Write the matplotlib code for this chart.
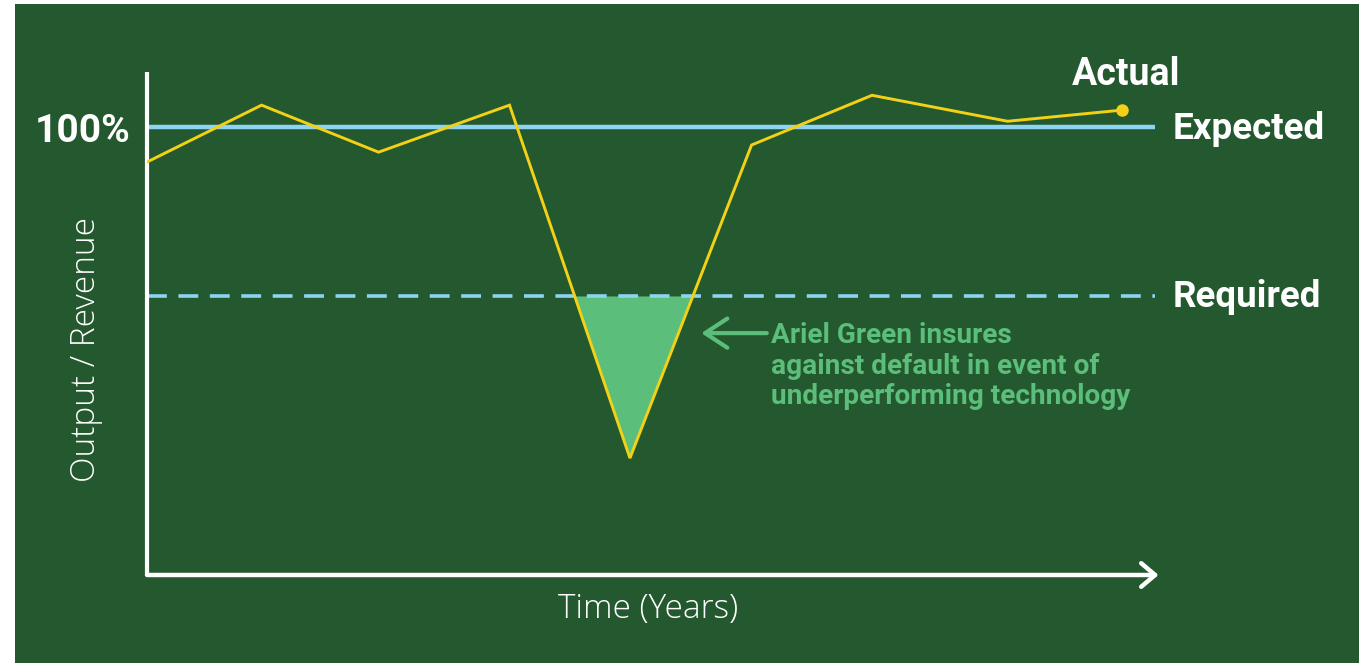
import matplotlib
matplotlib.use("Agg")
import matplotlib.pyplot as plt
from matplotlib.patches import Rectangle
import numpy as np

# Yearly output / revenue as a percentage of the expected level
years = [0.0, 0.98, 1.98, 3.1, 4.13, 5.17, 6.2, 7.36, 8.34]
actual = [92.2, 104.9, 94.4, 104.9, 26.1, 96.0, 107.1, 101.3, 103.8]
expected_level = 100.0
required_level = 62.3

x_max = 8.62
y_max = 112.3

BG = "#24582e"
YELLOW = "#f3d116"
BLUE = "#8dd4f2"
FILL = "#5bbe7a"
WHITE = "#ffffff"

W, H = 1363, 663
fig = plt.figure(figsize=(W / 100, H / 100), dpi=100, facecolor="white")

# dark green panel
fig.patches.append(Rectangle((15 / W, 0), (1359 - 15) / W, (663 - 4) / H,
                             transform=fig.transFigure, facecolor=BG,
                             edgecolor="none", zorder=-5))

ax = fig.add_axes([147 / W, 88 / H, (1155 - 147) / W, (575 - 72) / H])
ax.set_facecolor("none")
ax.set_xlim(0, x_max)
ax.set_ylim(0, y_max)
for s in ax.spines.values():
    s.set_visible(False)
ax.set_xticks([])
ax.set_yticks([])

bold = ["Roboto", "DejaVu Sans"]
light = ["Open Sans", "DejaVu Sans"]

# axes
ax.plot([0, 0], [0, y_max], color=WHITE, lw=3, solid_capstyle="butt",
        clip_on=False, zorder=3)
ax.annotate("", xy=(x_max + 0.03, 0), xytext=(0, 0),
            arrowprops=dict(arrowstyle="->,head_length=1.0,head_width=0.85",
                            mutation_scale=10, color=WHITE, lw=3.2,
                            shrinkA=0, shrinkB=0,
                            capstyle="round", joinstyle="round"),
            annotation_clip=False, zorder=3)

# reference levels
ax.plot([0, x_max], [expected_level] * 2, color=BLUE, lw=3.2,
        solid_capstyle="butt", zorder=2)
ax.plot([0, x_max], [required_level] * 2, color=BLUE, lw=2.6,
        dashes=(5.5, 3.2), zorder=2)

# shortfall below the required level
yr = np.array(years)
act = np.array(actual)
ax.fill_between(yr, act, required_level, where=act < required_level,
                interpolate=True, color=FILL, lw=0, zorder=1)

ax.plot(yr, act, color=YELLOW, lw=2.1, zorder=4, solid_joinstyle="miter")
ax.plot(yr[-1], act[-1], "o", color=YELLOW, ms=8, zorder=5, clip_on=False)

# labels
ax.text(yr[-1] + 0.03, 111.8, "Actual", color=WHITE, fontsize=27,
        fontweight="bold", family=bold, ha="center", va="center")
ax.text(x_max + 0.15, expected_level - 0.4, "Expected", color=WHITE,
        fontsize=26.5, fontweight="bold", family=bold, ha="left", va="center")
ax.text(x_max + 0.15, required_level - 0.3, "Required", color=WHITE,
        fontsize=26.5, fontweight="bold", family=bold, ha="left", va="center")
ax.text(-0.137, expected_level - 1.0, "100%", color=WHITE, fontsize=28,
        fontweight="bold", family=bold, ha="right", va="center")

ax.text(5.34, 56.4, "Ariel Green insures\nagainst default in event of\n"
        "underperforming technology", color=FILL, fontsize=20.2,
        fontweight="bold", family=bold, ha="left", va="top",
        linespacing=1.15)
ax.annotate("", xy=(4.74, 54.0), xytext=(5.30, 54.0),
            arrowprops=dict(arrowstyle="->,head_length=1.6,head_width=1.05",
                            mutation_scale=10, color=FILL, lw=3,
                            shrinkA=0, shrinkB=0,
                            capstyle="round", joinstyle="round"),
            zorder=3)

fig.text(86 / W, 1 - 350 / H, "Output / Revenue", color=WHITE, fontsize=24,
         family=light, fontweight="light",
         rotation=90, ha="center", va="center")
fig.text(648 / W, 1 - 609 / H, "Time (Years)", color=WHITE, fontsize=24,
         family=light, fontweight="light",
         ha="center", va="center")

fig.savefig("out.png", dpi=100, facecolor="white")
